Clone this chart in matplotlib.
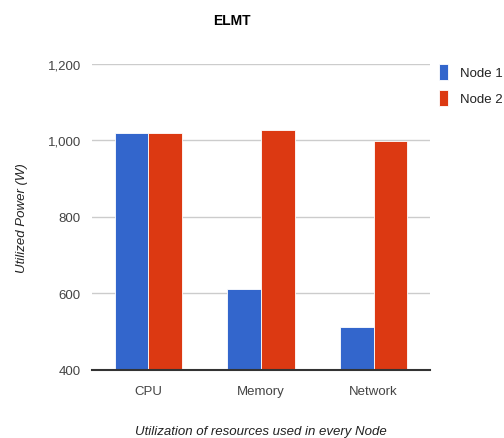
import numpy as np
import matplotlib.pyplot as plt

plt.rcParams['font.family'] = ['Liberation Sans', 'DejaVu Sans']

categories = ['CPU', 'Memory', 'Network']
node1 = [1020, 612, 511]
node2 = [1020, 1027, 999]
series_names = ['Node 1', 'Node 2']
yticks = [400, 600, 800, 1000, 1200]

blue = '#3366cc'
red = '#dc3912'

fig = plt.figure(figsize=(5.04, 4.39), dpi=100)
ax = fig.add_axes([0.1825, 0.155, 0.6705, 0.697])

x = np.arange(len(categories))
w = 0.3
ax.bar(x - w / 2, node1, w, color=blue, edgecolor='white', linewidth=0.6,
       label=series_names[0], zorder=3)
ax.bar(x + w / 2, node2, w, color=red, edgecolor='white', linewidth=0.6,
       label=series_names[1], zorder=3)

ax.set_xlim(-0.5, len(categories) - 0.5)
ax.set_ylim(400, 1200)
ax.set_yticks(yticks)
ax.set_yticklabels(['{:,}'.format(v) for v in yticks])
ax.set_xticks(x)
ax.set_xticklabels(categories)
ax.tick_params(length=0, labelsize=9.5, colors='#444444')
ax.tick_params(axis='y', pad=8)
ax.tick_params(axis='x', pad=11)

ax.grid(axis='y', color='#cccccc', linewidth=1, zorder=0)
for s in ['top', 'right', 'left']:
    ax.spines[s].set_visible(False)
ax.spines['bottom'].set_color('#333333')
ax.spines['bottom'].set_linewidth(1.5)
ax.spines['bottom'].set_zorder(4)

ax.set_xlabel('Utilization of resources used in every Node', style='italic',
              fontsize=9.5, color='#222222', labelpad=20)
ax.set_ylabel('Utilized Power (W)', style='italic', fontsize=9.5,
              color='#222222', labelpad=14)

fig.text(231.5 / 504, 1 - 21 / 439, 'ELMT', ha='center', va='center',
         fontsize=10, fontweight='bold', color='#000000')

leg = ax.legend(loc='upper left', bbox_to_anchor=(1.0, 1.03), frameon=False,
                fontsize=9.5, handlelength=0.65, handleheight=1.5,
                handletextpad=0.9, labelspacing=0.75, borderaxespad=0.3)
for t in leg.get_texts():
    t.set_color('#222222')

fig.savefig('out.png', dpi=100)
